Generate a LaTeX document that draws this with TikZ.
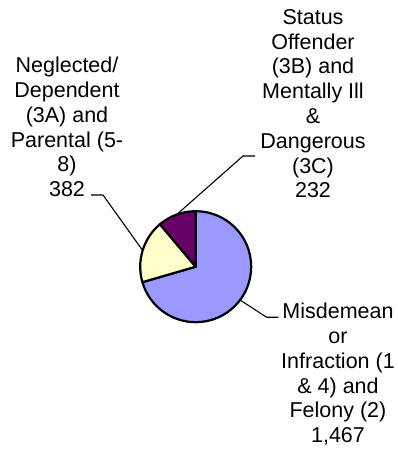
\documentclass[tikz,border=0pt]{standalone}
\usepackage{fontspec}
\setmainfont{Liberation Sans}
\usetikzlibrary{calc}
\definecolor{sliceblue}{HTML}{9999FF}
\definecolor{sliceyellow}{HTML}{FFFFCC}
\definecolor{slicepurple}{HTML}{660066}
\begin{document}
\begin{tikzpicture}[x=1pt,y=1pt,
  slice/.style={draw=black,line width=2.2pt,line join=round},
  leader/.style={draw=black,line width=1.1pt},
  lbl/.style={align=center,inner sep=0pt,anchor=north,
    font=\fontsize{21.5}{24.8}\selectfont}]
\useasboundingbox (0,0) rectangle (398,453);
\def\R{55.5}
\coordinate (c) at (195.7,186.3);
% slices
\path[slice,fill=sliceblue] (c) -- ++(90:\R) arc[start angle=90,end angle=-163.8,radius=\R] -- cycle;
\path[slice,fill=sliceyellow] (c) -- ++(196.2:\R) arc[start angle=196.2,end angle=130.1,radius=\R] -- cycle;
\path[slice,fill=slicepurple] (c) -- ++(130.1:\R) arc[start angle=130.1,end angle=90,radius=\R] -- cycle;
% labels
\node[lbl] (lblLeft) at (67,396) {Neglected/\\Dependent\\(3A) and\\Parental (5-\\8)\\382};
\node[lbl] (lblTop) at (313,444) {Status\\Offender\\(3B) and\\Mentally Ill\\\&\\Dangerous\\(3C)\\232};
\node[lbl] (lblBottom) at (338,150) {Misdemean\\or\\Infraction (1\\\& 4) and\\Felony (2)\\1,467};
% leader points
\coordinate (eLeft) at ($(c)+(163:\R)$);
\coordinate (eTop) at ($(c)+(110:\R)$);
\coordinate (eBottom) at ($(c)+(-36.9:\R)$);
\coordinate (kLeft) at (103,258);
\coordinate (tLeft) at (91,258);
\coordinate (kTop) at (243,297);
\coordinate (tTop) at (255,297);
\coordinate (kBottom) at (266.7,135.7);
\coordinate (tBottom) at (278.3,135.7);
\draw[leader] (tLeft) -- (kLeft) -- (eLeft);
\draw[leader] (eTop) -- (kTop) -- (tTop);
\draw[leader] (eBottom) -- (kBottom) -- (tBottom);
\end{tikzpicture}
\end{document}
